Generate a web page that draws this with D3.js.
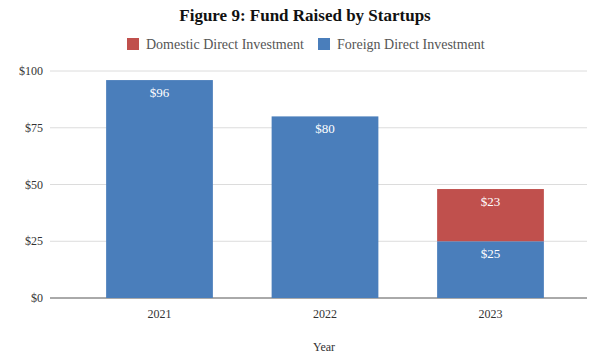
<!DOCTYPE html>
<html>
<head>
<meta charset="utf-8">
<script src="https://cdn.jsdelivr.net/npm/d3@7"></script>
<style>
  html, body { margin: 0; padding: 0; background: #fff; }
  svg text { font-family: "Liberation Serif", "DejaVu Serif", serif; }
</style>
</head>
<body>
<svg id="chart" width="593" height="356"></svg>
<script>
const years = ["2021", "2022", "2023"];
const foreign = [96, 80, 25];
const domestic = [0, 0, 23];
const yTicks = [0, 25, 50, 75, 100];
const seriesNames = ["Domestic Direct Investment", "Foreign Direct Investment"];
const colors = { domestic: "#c0504d", foreign: "#4a7ebb" };

const svg = d3.select("#chart");

const x = d3.scaleBand().domain(years).range([76.75, 573.25])
  .paddingInner(0.355).paddingOuter(0.1775);
const y = d3.scaleLinear().domain([0, 100]).range([298, 71]);
const gridLeft = 50, gridRight = 587;

// Title
svg.append("text").attr("x", 305).attr("y", 21)
  .attr("text-anchor", "middle").attr("font-weight", "bold")
  .attr("font-size", 17).attr("fill", "#111")
  .text("Figure 9: Fund Raised by Startups");

// Legend
const legend = [
  { name: seriesNames[0], color: colors.domestic, sx: 127, tx: 146 },
  { name: seriesNames[1], color: colors.foreign, sx: 318, tx: 337 }
];
legend.forEach(l => {
  svg.append("rect").attr("x", l.sx).attr("y", 38).attr("width", 12).attr("height", 12).attr("fill", l.color);
  svg.append("text").attr("x", l.tx).attr("y", 48.5).attr("font-size", 14).attr("fill", "#555").text(l.name);
});

// Gridlines and y-axis labels
yTicks.forEach(t => {
  svg.append("line").attr("x1", gridLeft).attr("x2", gridRight)
    .attr("y1", y(t)).attr("y2", y(t))
    .attr("stroke", t === 0 ? "#555" : "#dcdcdc").attr("stroke-width", 1);
  svg.append("text").attr("x", 43).attr("y", y(t) + 4)
    .attr("text-anchor", "end").attr("font-size", 12).attr("fill", "#333")
    .text("$" + t);
});

// Stacked bars
const rows = years.map((yr, i) => ({ year: yr, foreign: foreign[i], domestic: domestic[i] }));
const stack = d3.stack().keys(["foreign", "domestic"])(rows);
stack.forEach(layer => {
  const present = layer.filter(d => d[1] > d[0]);
  svg.append("g").selectAll("rect").data(present).join("rect")
    .attr("x", d => x(d.data.year))
    .attr("width", x.bandwidth())
    .attr("y", d => y(d[1]))
    .attr("height", d => y(d[0]) - y(d[1]))
    .attr("fill", colors[layer.key]);
  svg.append("g").selectAll("text").data(present).join("text")
    .attr("x", d => x(d.data.year) + x.bandwidth() / 2)
    .attr("y", d => y(d[1]) + 17)
    .attr("text-anchor", "middle").attr("font-size", 13).attr("fill", "#fff")
    .text(d => "$" + (d[1] - d[0]));
});

// X-axis labels
years.forEach(yr => {
  svg.append("text").attr("x", x(yr) + x.bandwidth() / 2).attr("y", 318)
    .attr("text-anchor", "middle").attr("font-size", 12).attr("fill", "#333").text(yr);
});

svg.append("text").attr("x", 324).attr("y", 351)
  .attr("text-anchor", "middle").attr("font-size", 12).attr("fill", "#333").text("Year");
</script>
</body>
</html>
